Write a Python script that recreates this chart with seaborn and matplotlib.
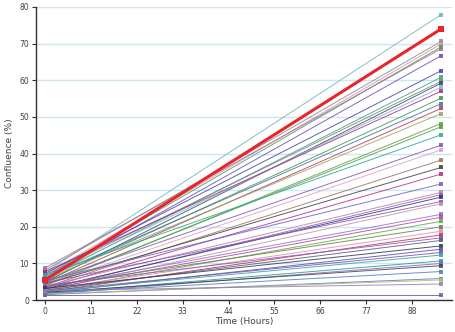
import matplotlib
matplotlib.use("Agg")
import matplotlib.pyplot as plt
import seaborn as sns
import pandas as pd

# Two time points per well: start and end of the run (hours)
times = [0, 95]

# Confluence (%) at the start of the run, one value per well
start_conf = [7.6, 5.5, 8.2, 7.0, 6.6, 8.8, 6.2, 7.3, 5.9, 6.8, 4.9, 6.4, 7.8, 5.2, 6.0,
              4.6, 5.7, 3.9, 4.3, 6.9, 5.0, 4.1, 3.6, 4.4, 3.3, 5.3, 3.8, 2.9, 3.1, 4.7,
              2.6, 3.5, 3.0, 2.4, 3.7, 2.8, 2.2, 4.0, 2.7, 3.2, 2.0, 2.5, 2.3, 1.8, 1.6,
              2.1, 1.9, 1.5, 1.7, 2.6, 1.4]

# Confluence (%) at the end of the run
end_conf = [77.9, 74.0, 70.6, 69.9, 69.1, 68.6, 66.7, 62.6, 60.8, 59.7, 59.2, 58.1, 57.0, 55.1, 53.6,
            52.3, 50.9, 48.2, 47.3, 45.1, 42.3, 41.0, 38.2, 36.2, 34.4, 31.7, 29.4, 28.8, 28.1, 26.9,
            26.3, 23.4, 22.6, 21.5, 20.0, 18.8, 17.8, 17.0, 16.3, 14.8, 13.9, 13.0, 12.3, 10.7, 10.0,
            9.4, 7.8, 5.9, 5.5, 4.4, 1.4]

well_colors = ["#6fb3bb", "#e8262a", "#8a8a8a", "#d88ab8", "#4f9a5a", "#a07090", "#6a4fb3", "#4b3fa8",
               "#3ea57a", "#7f7f7f", "#3c4a5c", "#7ab6d0", "#a0308a", "#3f9a4f", "#4a6fa5", "#b0404a",
               "#9aa06a", "#6c9a3a", "#4aa04a", "#2aa89a", "#7a5ab8", "#e0a0c0", "#a07060", "#404040",
               "#b03090", "#7060c0", "#c080a0", "#8a60c0", "#2a3a70", "#9050b0", "#c090a8", "#9070c8",
               "#c040a0", "#50b040", "#707a50", "#e090b0", "#c03050", "#8a5ac0", "#50607a", "#303a48",
               "#5050b0", "#7a50b0", "#3aa0a0", "#2a9a90", "#8a60c8", "#404040", "#4a80c0", "#5a7ab0",
               "#b8b870", "#8a80b8", "#6a5aa0"]

red_idx = 1

rows = []
for i, (s, e) in enumerate(zip(start_conf, end_conf)):
    rows.append({"well": f"W{i:02d}", "time": times[0], "conf": s})
    rows.append({"well": f"W{i:02d}", "time": times[1], "conf": e})
df = pd.DataFrame(rows)

sns.set_style("white")
fig = plt.figure(figsize=(4.56, 3.32), dpi=100)
ax = fig.add_axes([0.079, 0.096, 0.912, 0.883])

wells = [f"W{i:02d}" for i in range(len(end_conf))]
palette = dict(zip(wells, well_colors))
others = df[df["well"] != wells[red_idx]]
sns.lineplot(data=others, x="time", y="conf", hue="well", palette=palette,
             marker="s", markersize=3.2, markeredgewidth=0, linewidth=0.7,
             alpha=0.85, legend=False, ax=ax, sort=False)
sns.lineplot(data=df[df["well"] == wells[red_idx]], x="time", y="conf",
             color="#e8262a", marker="s", markersize=4.5, markeredgewidth=0,
             linewidth=2.2, legend=False, ax=ax, sort=False)

ax.set_xlim(-2.2, 97.6)
ax.set_ylim(0, 80)
ax.set_xticks(range(0, 89, 11))
ax.set_yticks(range(0, 81, 10))
ax.yaxis.grid(True, color="#cfe6f0", linewidth=1.0)
ax.xaxis.grid(False)
ax.set_axisbelow(True)
for side in ("top", "right"):
    ax.spines[side].set_visible(False)
for side in ("left", "bottom"):
    ax.spines[side].set_color("#303030")
    ax.spines[side].set_linewidth(1.0)
ax.tick_params(axis="both", direction="out", length=3, width=0.8, color="#303030",
               labelsize=5.5, labelcolor="#404040", pad=2, left=True, bottom=True)
ax.set_xlabel("Time (Hours)", fontsize=6.5, color="#404040", labelpad=1)
ax.set_ylabel("Confluence (%)", fontsize=6.5, color="#404040", labelpad=4)

fig.savefig("out.png", dpi=100)
